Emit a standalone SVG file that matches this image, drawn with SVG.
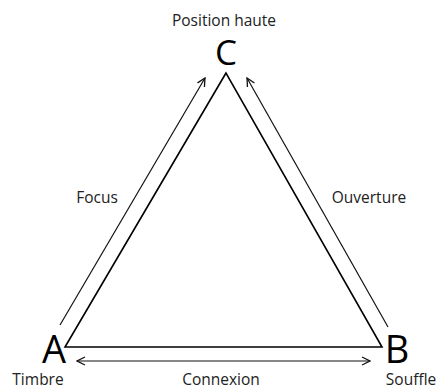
<svg xmlns="http://www.w3.org/2000/svg" width="445" height="389" viewBox="0 0 445 389">
<style>
.lbl{font-family:"Open Sans","Noto Sans",sans-serif;font-size:15.5px;fill:#222;text-anchor:middle}
.big{font-family:"Open Sans","Noto Sans",sans-serif;font-size:38px;fill:#000;text-anchor:middle}
.arr{stroke:#111;stroke-width:1.2;fill:none}
</style>
<defs>
<marker id="ah" viewBox="0 0 10 10" refX="9" refY="5" markerWidth="10" markerHeight="10" markerUnits="userSpaceOnUse" orient="auto-start-reverse">
<polyline points="1,1 9,5 1,9" fill="none" stroke="#111" stroke-width="1.3"/>
</marker>
</defs>
<rect width="445" height="389" fill="#fff"/>
<g id="triangle">
<polygon points="226,73 65,347 382,347" fill="none" stroke="#000" stroke-width="1.6" stroke-linejoin="miter"/>
</g>
<g id="connectors">
<line class="arr" x1="60" y1="325" x2="205" y2="78" marker-end="url(#ah)"/>
<line class="arr" x1="388" y1="327" x2="247" y2="78" marker-end="url(#ah)"/>
<line class="arr" x1="77" y1="361" x2="370" y2="361" marker-start="url(#ah)" marker-end="url(#ah)"/>
</g>
<g id="node-C">
<text class="lbl" x="224" y="26">Position haute</text>
<text class="big" x="226" y="65" style="font-size:35px">C</text>
</g>
<g id="node-A">
<text class="big" x="54" y="363">A</text>
<text class="lbl" x="38" y="385">Timbre</text>
</g>
<g id="node-B">
<text class="big" x="397" y="363">B</text>
<text class="lbl" x="411" y="385">Souffle</text>
</g>
<g id="labels">
<text class="lbl" x="97" y="203">Focus</text>
<text class="lbl" x="369" y="203">Ouverture</text>
<text class="lbl" x="221" y="385">Connexion</text>
</g>
</svg>
